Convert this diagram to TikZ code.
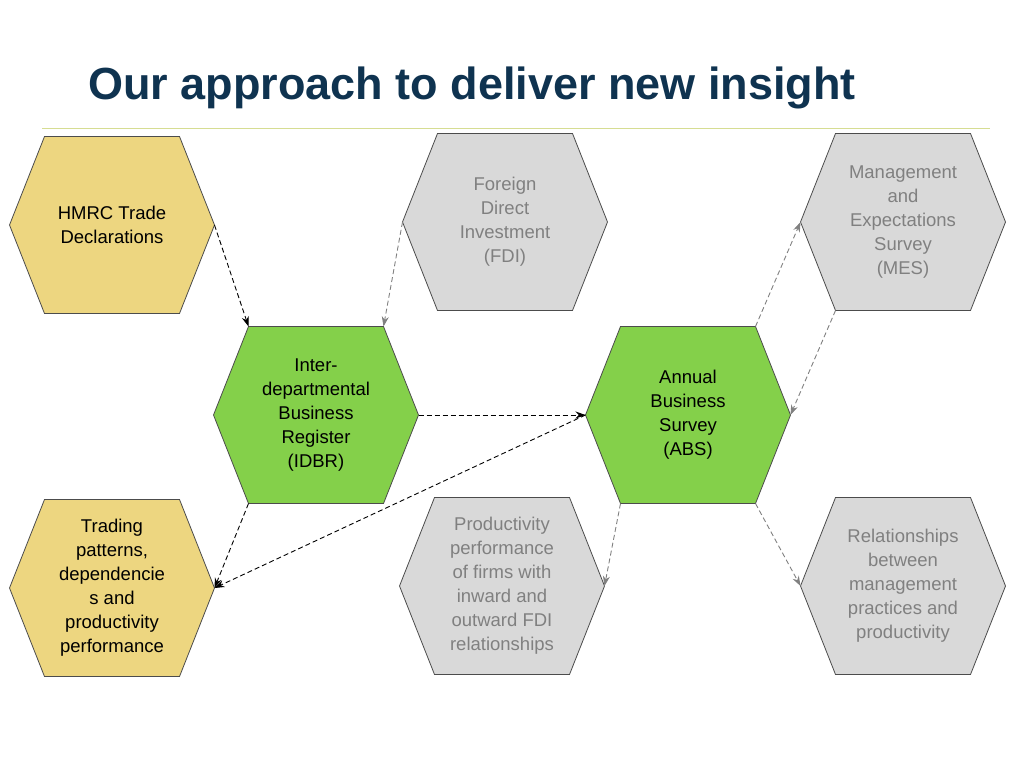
\documentclass[tikz,border=0pt]{standalone}
\usepackage{fontspec}
\setmainfont{Liberation Sans}
\usetikzlibrary{arrows.meta}
\definecolor{ttl}{HTML}{0F3350}
\definecolor{yel}{HTML}{EDD680}
\definecolor{grn}{HTML}{84D04A}
\definecolor{gry}{HTML}{D9D9D9}
\definecolor{gtx}{HTML}{808080}
\definecolor{rule}{HTML}{D6DD92}
\tikzset{
  hexyel/.style={fill=yel,draw=black!70,line width=0.8pt},
  hexgrn/.style={fill=grn,draw=black!70,line width=0.8pt},
  hexgry/.style={fill=gry,draw=black!70,line width=0.8pt},
  lbl/.style={align=center,font=\fontsize{18.5}{24}\selectfont},
  lblg/.style={lbl,text=gtx},
  blk/.style={dash pattern=on 5pt off 3pt,black,line width=0.9pt,-{Stealth[length=10pt,width=7pt]}},
  gra/.style={dash pattern=on 5pt off 3pt,black!50,line width=0.9pt,-{Stealth[length=10pt,width=7pt]}}
}
\newcommand\hexa[6]{%
  \coordinate (#1-l) at (#2-102.5,#3);
  \coordinate (#1-r) at (#2+102.5,#3);
  \coordinate (#1-tl) at (#2-67.5,#3-88.5);
  \coordinate (#1-tr) at (#2+67.5,#3-88.5);
  \coordinate (#1-bl) at (#2-67.5,#3+88.5);
  \coordinate (#1-br) at (#2+67.5,#3+88.5);
  \draw[#4] (#1-l)--(#1-tl)--(#1-tr)--(#1-r)--(#1-br)--(#1-bl)--cycle;
  \node[#5] (#1) at (#2,#3) {#6};}
\begin{document}
\begin{tikzpicture}[x=1pt,y=-1pt]
\useasboundingbox (0,0) rectangle (1024,768);
\node[anchor=base west,inner sep=0pt,text=ttl,font=\fontsize{45}{54}\selectfont\bfseries] (title) at (88,99) {Our approach to deliver new insight};
\draw[rule,line width=1pt] (42,128) -- (990,128);
\hexa{hmrc}{112}{225}{hexyel}{lbl}{HMRC Trade\\Declarations}
\hexa{fdi}{505}{222}{hexgry}{lblg}{Foreign\\Direct\\Investment\\(FDI)}
\hexa{mes}{903}{222}{hexgry}{lblg}{Management\\and\\Expectations\\Survey\\(MES)}
\hexa{idbr}{316}{415}{hexgrn}{lbl}{Inter-\\departmental\\Business\\Register\\(IDBR)}
\hexa{abs}{688}{415}{hexgrn}{lbl}{Annual\\Business\\Survey\\(ABS)}
\hexa{trad}{112}{588}{hexyel}{lbl}{Trading\\patterns,\\dependencie\\s and\\productivity\\performance}
\hexa{prod}{502}{586}{hexgry}{lblg}{Productivity\\performance\\of firms with\\inward and\\outward FDI\\relationships}
\hexa{rel}{903}{586}{hexgry}{lblg}{Relationships\\between\\management\\practices and\\productivity}
\draw[blk] (hmrc-r) -- (idbr-tl);
\draw[gra] (fdi-l) -- (idbr-tr);
\draw[blk] (idbr-r) -- (abs-l);
\draw[blk] (idbr-bl) -- (trad-r);
\draw[blk] (abs-l) -- (trad-r);
\draw[gra] (abs-tr) -- (mes-l);
\draw[gra] (mes-bl) -- (abs-r);
\draw[gra] (abs-bl) -- (prod-r);
\draw[gra] (abs-br) -- (rel-l);
\end{tikzpicture}
\end{document}
